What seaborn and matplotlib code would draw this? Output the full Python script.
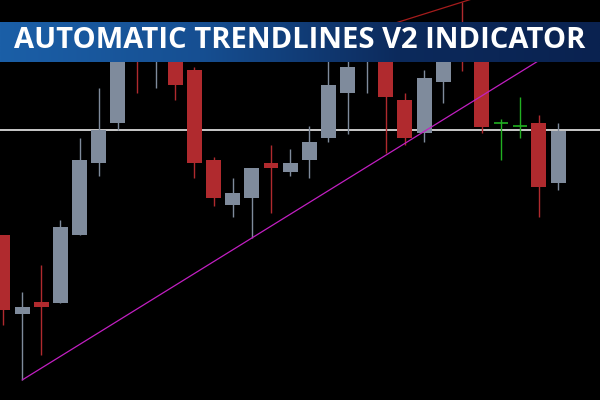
import numpy as np
import pandas as pd
import matplotlib
matplotlib.use("Agg")
import matplotlib.pyplot as plt
from matplotlib.colors import LinearSegmentedColormap
import seaborn as sns

# ---- data (price units) ----
opens  = [165, 86, 98, 97, 165, 237, 277, 365, 345, 360, 330, 240, 195, 202, 237,
          228, 240, 262, 307, 342, 370, 300, 267, 318, 360, 355, 277, 274, 277, 217]
highs  = [165, 108, 135, 180, 262, 312, 365, 370, 374, 365, 333, 243, 222, 232, 255,
          251, 274, 345, 342, 370, 374, 307, 330, 365, 398, 360, 281, 303, 285, 277]
lows   = [75, 20, 45, 97, 165, 224, 270, 307, 312, 300, 222, 194, 183, 162, 187,
          224, 222, 258, 266, 307, 247, 255, 258, 297, 329, 267, 240, 262, 183, 210]
closes = [90, 93, 93, 173, 240, 270, 360, 345, 370, 315, 237, 202, 207, 232, 232,
          237, 258, 315, 333, 365, 303, 262, 322, 360, 342, 273, 277, 274, 213, 269]
level = 270                      # horizontal line
support_idx = [1, 13]            # trendline anchored on lows
resist_idx = [20, 24]            # trendline anchored on highs
title = "AUTOMATIC TRENDLINES V2 INDICATOR"

UP, DOWN, DOJI = "#7f8b9c", "#b02a2e", "#21b021"

sns.set_theme(style="dark")
plt.rcParams["font.family"] = ["Open Sans", "DejaVu Sans"]

df = pd.DataFrame({"i": np.arange(len(opens)), "open": opens, "high": highs,
                   "low": lows, "close": closes})
df["color"] = np.where(df["close"] > df["open"], UP,
                       np.where(df["close"] < df["open"], DOWN, DOJI))

fig = plt.figure(figsize=(6, 4), dpi=100, facecolor="black")
ax = fig.add_axes([0, 0, 1, 1])
ax.set_facecolor("black")

ax.axhline(level, color="#c9c9c9", lw=1.4, zorder=1)
ax.vlines(df["i"], df["low"], df["high"], colors=df["color"], lw=1.0, zorder=2)
body = df[df["open"] != df["close"]]
ax.bar(body["i"], (body["close"] - body["open"]).abs(),
       bottom=np.minimum(body["open"], body["close"]), width=0.78,
       color=body["color"], linewidth=0, zorder=3)
doji = df[df["open"] == df["close"]]
ax.hlines(doji["close"], doji["i"] - 0.37, doji["i"] + 0.37, colors=DOJI, lw=1.2, zorder=3)

# trendlines
s0, s1 = support_idx
sl = (lows[s1] - lows[s0]) / (s1 - s0)
sx = np.array([s0, 31])
sns.lineplot(x=sx, y=lows[s0] + sl * (sx - s0), ax=ax, color="#c21fc2", lw=0.9, zorder=4)
r0, r1 = resist_idx
rl = (highs[r1] - highs[r0]) / (r1 - r0)
rx = np.array([r0, 27])
sns.lineplot(x=rx, y=highs[r0] + rl * (rx - r0), ax=ax, color="#a51c1c", lw=0.9, zorder=4)

ax.set_xlim(-0.157, 31.19)
ax.set_ylim(0, 400)
ax.axis("off")

# banner
bax = fig.add_axes([0, 1 - 62 / 400, 1, 40 / 400])
cmap = LinearSegmentedColormap.from_list("b", ["#1b5fa7", "#164f92", "#0c2a5c", "#0a2250"])
bax.imshow(np.linspace(0, 1, 256)[None, :], aspect="auto", cmap=cmap, extent=[0, 1, 0, 1])
bax.set_xlim(0, 1); bax.set_ylim(0, 1)
bax.axis("off")
t = bax.text(0.5, 0.55, title, ha="center", va="center", color="white",
             fontsize=20, fontweight="bold", transform=bax.transAxes)
fig.canvas.draw()
w = t.get_window_extent().width
t.set_fontsize(20 * 570 / w)

fig.savefig("out.png", dpi=100, facecolor="black")
